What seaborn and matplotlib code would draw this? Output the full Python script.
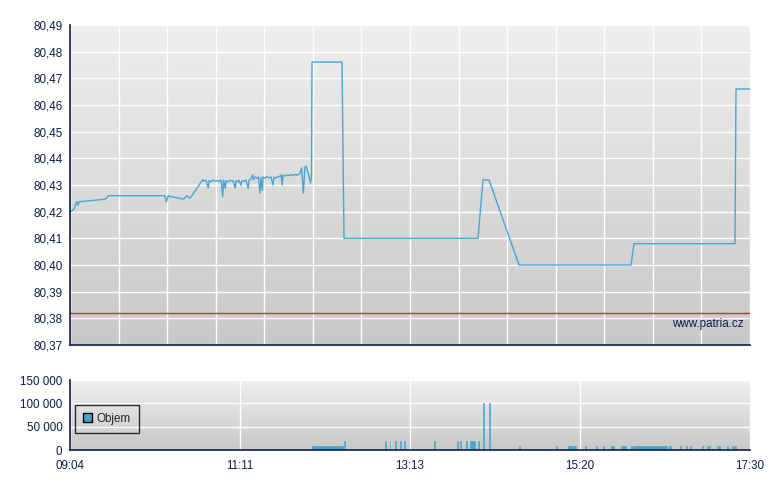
import numpy as np
import pandas as pd
import matplotlib
matplotlib.use("Agg")
import matplotlib.pyplot as plt
from matplotlib.colors import LinearSegmentedColormap
from matplotlib.patches import Patch
import seaborn as sns

# ---- data (x = trading-time position 0..680 on the chart's index scale) ----
price_x = [0, 4, 6.7, 8, 9, 35.7, 38.3, 94.7, 96.3, 98.3, 99, 114, 116.7, 118.5, 120,
           132.7, 134, 136, 138.3, 139, 141, 143, 145, 147, 149, 151, 152.7, 153.5, 155.3,
           156, 158, 160, 162, 163, 165.3, 166, 168, 169, 171, 172, 174, 176, 178.3, 179,
           181, 182.7, 183.5, 185, 187, 188.5, 190, 191, 192.3, 193, 195, 197, 199, 201,
           203, 204, 206, 208, 210, 211, 212.3, 213, 215, 217, 219, 221, 223, 225, 227,
           229, 230, 231.7, 233.3, 235, 236.3, 238, 239, 240.7, 241.5, 242, 272, 274,
           408, 413, 419, 449, 561, 564, 665, 666, 680]
price_y = [80.4198, 80.4210, 80.4237, 80.4225, 80.4237, 80.4247, 80.4260, 80.4260, 80.4237,
           80.4260, 80.4258, 80.4247, 80.4260, 80.4255, 80.4250,
           80.4320, 80.4315, 80.4318, 80.4288, 80.4316, 80.4312, 80.4318, 80.4314, 80.4317,
           80.4313, 80.4318, 80.4256, 80.4318, 80.4287, 80.4316, 80.4312, 80.4318, 80.4314,
           80.4317, 80.4289, 80.4316, 80.4312, 80.4318, 80.4299, 80.4316, 80.4314, 80.4319,
           80.4287, 80.4318, 80.4322, 80.4338, 80.4320, 80.4330, 80.4325, 80.4330, 80.4269,
           80.4328, 80.4279, 80.4330, 80.4326, 80.4331, 80.4327, 80.4330, 80.4300, 80.4329,
           80.4326, 80.4331, 80.4333, 80.4338, 80.4300, 80.4336, 80.4334, 80.4338, 80.4335,
           80.4339, 80.4336, 80.4340, 80.4337, 80.4341, 80.4344, 80.4364, 80.4269, 80.4369,
           80.4369, 80.4345, 80.4333, 80.4307, 80.4340, 80.4761, 80.4761, 80.4100,
           80.4100, 80.4319, 80.4319, 80.4000, 80.4000, 80.4080, 80.4080, 80.4660, 80.4660]
reference_price = 80.382

vol_start = [241.7, 274.3, 315.3, 319.5, 325.2, 330.3, 334.3, 364.3, 387.3, 390.3, 396.3,
             400.0, 407.7, 413.3, 419.3, 449.3, 486.3, 498.3, 503.3, 515.3, 525.7, 533.3,
             541.0, 551.0, 561.3, 563.3, 599.3, 610.3, 616.3, 620.3, 632.3, 637.3, 639.3,
             647.3, 649.3, 657.3, 662.3, 664.3]
vol_end = [272.7, 275.1, 316.1, 320.3, 326.0, 331.1, 335.1, 365.1, 388.1, 391.1, 397.1,
           405.0, 408.5, 414.1, 420.1, 450.1, 487.1, 502.0, 505.7, 516.1, 527.3, 534.1,
           543.7, 555.7, 562.1, 596.7, 600.7, 611.1, 617.1, 621.1, 633.1, 638.1, 640.1,
           648.1, 650.1, 658.1, 663.1, 665.7]
vol_value = [9000, 20000, 20000, 20000, 20000, 20000, 20000, 20000, 20000, 20000, 20000,
             20000, 20000, 100000, 100000, 9000, 9000, 9000, 9000, 9000, 9000, 9000,
             9000, 9000, 9000, 9000, 9000, 9000, 9000, 9000, 9000, 9000, 9000,
             9000, 9000, 9000, 9000, 9000]

time_labels = ["09:04", "11:11", "13:13", "15:20", "17:30"]
price_ticks = [80.37, 80.38, 80.39, 80.40, 80.41, 80.42, 80.43, 80.44, 80.45, 80.46, 80.47, 80.48, 80.49]
vol_ticks = [0, 50000, 100000, 150000]

# ---- style ----
sns.set_style("white")
plt.rcParams['font.family'] = ['Liberation Sans', 'DejaVu Sans']
NAVY = "#0c1f4a"
LINE = "#4aa6d0"
BAR = "#44a4cc"
grad = LinearSegmentedColormap.from_list("g", ["#c8c8c8", "#efefef"])

fig = plt.figure(figsize=(7.8, 4.9), dpi=100)
ax1 = fig.add_axes([70/780, 1-345/490, 680/780, 320/490])
ax2 = fig.add_axes([70/780, 1-450/490, 680/780, 70/490])

X0, X1 = 0, 680

def style_axes(ax):
    ax.imshow(np.linspace(0, 1, 256).reshape(-1, 1), cmap=grad, origin="lower",
              extent=[0, 1, 0, 1], transform=ax.transAxes, aspect="auto", zorder=-1)
    ax.set_axisbelow(True)
    for s in ["top", "right"]:
        ax.spines[s].set_visible(False)
    for s in ["left", "bottom"]:
        ax.spines[s].set_color(NAVY)
        ax.spines[s].set_linewidth(1.2)
    ax.tick_params(axis="both", direction="out", length=4, width=1, color=NAVY,
                   labelcolor=NAVY, labelsize=8.4, pad=1.5)
    ax.grid(True, color="white", linewidth=1.0)

# ---- price panel ----
style_axes(ax1)
df = pd.DataFrame({"x": price_x, "price": price_y})
sns.lineplot(data=df, x="x", y="price", ax=ax1, color=LINE, linewidth=1.0,
             estimator=None, sort=False)
ax1.axhline(reference_price, color="#c03838", linewidth=1)
ax1.set_xlim(X0, X1)
ax1.set_ylim(price_ticks[0], price_ticks[-1])
ax1.set_yticks(price_ticks)
ax1.set_yticklabels([f"{v:.2f}".replace(".", ",") for v in price_ticks])
ax1.set_xticks(np.linspace(X0, X1, 15))
ax1.set_xticklabels([])
ax1.set_xlabel("")
ax1.set_ylabel("")
ax1.text(0.990, 0.066, "www.patria.cz", transform=ax1.transAxes, ha="right", va="center",
         color=NAVY, fontsize=8.4)

# ---- volume panel ----
style_axes(ax2)
starts = np.array(vol_start)
widths = np.array(vol_end) - starts
ax2.bar(starts, vol_value, width=widths, align="edge", color=BAR, edgecolor=BAR,
        linewidth=0.4)
ax2.set_xlim(X0, X1)
ax2.set_ylim(0, 150000)
ax2.set_yticks(vol_ticks)
ax2.set_yticklabels([f"{v:,}".replace(",", " ") for v in vol_ticks])
ax2.set_xticks(np.linspace(X0, X1, 5))
ax2.set_xticklabels(time_labels)
ax2.tick_params(axis="x", pad=3)
ax2.grid(True, axis="x", color="white", linewidth=1.0)
leg = ax2.legend(handles=[Patch(facecolor=BAR, edgecolor="black", linewidth=1, label="Objem")],
                 loc="lower left", bbox_to_anchor=(0.007, 0.243), frameon=True, fancybox=False,
                 fontsize=8.4, handlelength=0.8, handleheight=0.8, handletextpad=0.35,
                 borderpad=0.7, borderaxespad=0)
leg.get_frame().set_edgecolor("black")
leg.get_frame().set_facecolor("none")
leg.get_frame().set_linewidth(1)

fig.savefig("out.png", dpi=100)
